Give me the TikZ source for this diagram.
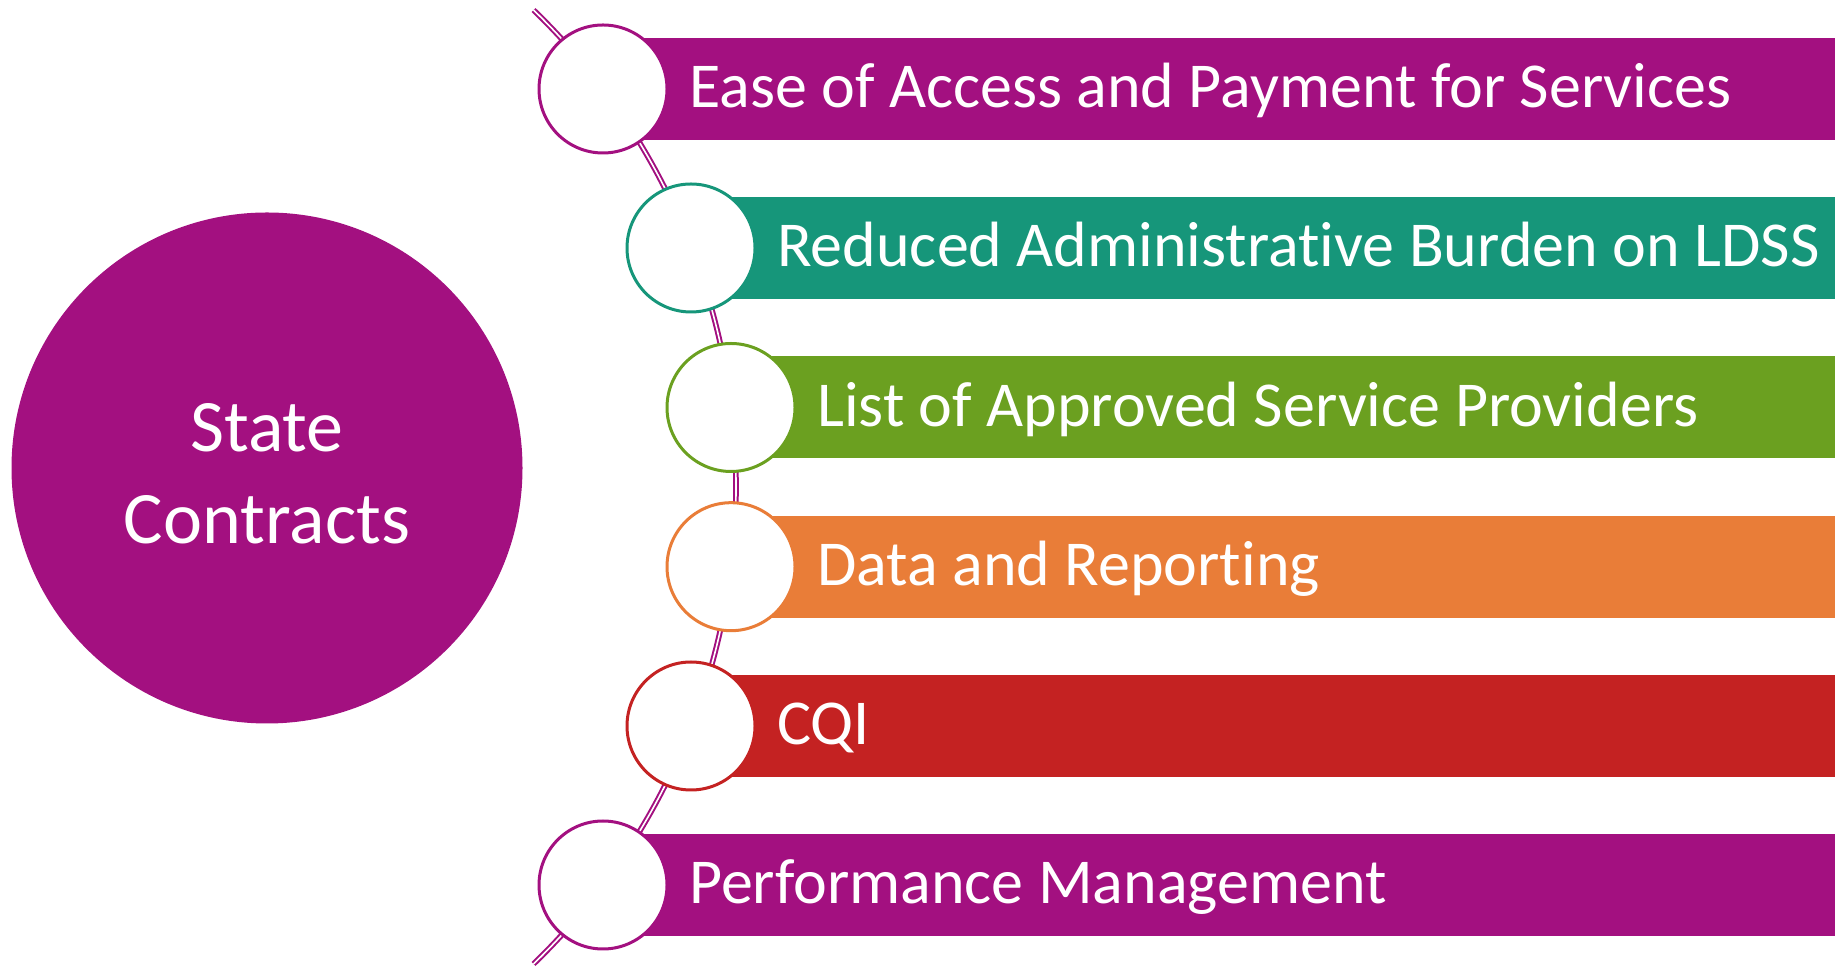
\documentclass[tikz,border=0pt]{standalone}
\usepackage{fontspec}
\setmainfont{Carlito}[Ligatures={NoCommon,NoContextual}]
\definecolor{cpurple}{RGB}{163,16,128}
\definecolor{cteal}{RGB}{22,150,122}
\definecolor{cgreen}{RGB}{107,160,32}
\definecolor{corange}{RGB}{233,125,56}
\definecolor{cred}{RGB}{196,34,34}
\begin{document}
\begin{tikzpicture}[x=1pt,y=1pt,
  bigcirc/.style={circle,fill=cpurple,minimum size=511pt,inner sep=0pt,text=white,align=center,font=\fontsize{74}{92}\selectfont},
  bullet/.style={circle,draw=#1,fill=white,line width=3pt,minimum size=128pt,inner sep=0pt},
  barbox/.style={rectangle,fill=#1,minimum height=102pt,inner sep=0pt,anchor=west},
  bartext/.style={anchor=base west,text=white,inner sep=0pt,font=\fontsize{64}{70}\selectfont},
  spine/.style={draw=cpurple,line width=2pt,double=white,double distance=1.6pt}]
\useasboundingbox (0,0) rectangle (1836,966);
% spine arc through the bullet centres
\coordinate (arcend) at ({73+663*cos(-46)},{479+663*sin(-46)});
\draw[spine] (arcend) arc[start angle=-46,end angle=46,radius=663];
% big circle
\node[bigcirc] (sc) at (267,498) {};
\node[text=white,align=center,font=\fontsize{74}{92}\selectfont,inner sep=0pt] (sct) at (267,492) {State\\Contracts};
% bars
\foreach \i/\cx/\cy/\col in {1/603/877/cpurple,2/691/718/cteal,3/731/558.5/cgreen,4/731/399.3/corange,5/691/240/cred,6/603/81/cpurple}{
  \pgfmathsetmacro\w{1835-\cx}
  \node[barbox=\col,minimum width=\w pt] (bar\i) at (\cx,\cy) {};
}
% bullets
\foreach \i/\cx/\cy/\col in {1/603/877/cpurple,2/691/718/cteal,3/731/558.5/cgreen,4/731/399.3/corange,5/691/240/cred,6/603/81/cpurple}{
  \node[bullet=\col] (b\i) at (\cx,\cy) {};
}
% texts
\node[bartext] (t1) at ([xshift=86pt,yshift=-19pt]b1.center) {Ease of Access and Payment for Services};
\node[bartext] (t2) at ([xshift=86pt,yshift=-19pt]b2.center) {Reduced Administrative Burden on LDSS};
\node[bartext] (t3) at ([xshift=86pt,yshift=-19pt]b3.center) {List of Approved Service Providers};
\node[bartext] (t4) at ([xshift=86pt,yshift=-19pt]b4.center) {Data and Reporting};
\node[bartext] (t5) at ([xshift=86pt,yshift=-19pt]b5.center) {CQI};
\node[bartext] (t6) at ([xshift=86pt,yshift=-19pt]b6.center) {Performance Management};
\end{tikzpicture}
\end{document}
